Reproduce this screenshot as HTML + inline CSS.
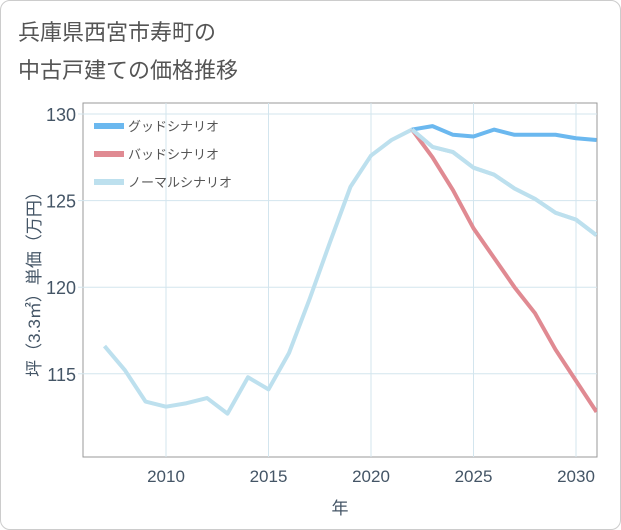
<!DOCTYPE html>
<html><head><meta charset="utf-8"><style>
body{margin:0;background:#fff;}
#card{position:absolute;left:0;top:0;width:619px;height:528px;border:1px solid #ccc;border-radius:10px;background:#fff;}
text{font-family:"Liberation Sans","Noto Sans CJK JP",sans-serif;}
</style></head><body>
<div id="card"></div>
<svg id="chart" width="621" height="530" style="position:absolute;left:0;top:0">
<text x="18" y="40" font-size="22" fill="#555">兵庫県西宮市寿町の</text>
<text x="18" y="78" font-size="22" fill="#555">中古戸建ての価格推移</text>
<g id="plot"></g>
</svg>
<script>
const years=[2007,2008,2009,2010,2011,2012,2013,2014,2015,2016,2017,2018,2019,2020,2021,2022,2023,2024,2025,2026,2027,2028,2029,2030,2031];
const normal=[116.6,115.2,113.4,113.1,113.3,113.6,112.7,114.8,114.1,116.2,119.3,122.6,125.8,127.6,128.5,129.1,128.1,127.8,126.9,126.5,125.7,125.1,124.3,123.9,123.0];
const goodYears=[2022,2023,2024,2025,2026,2027,2028,2029,2030,2031];
const good=[129.1,129.3,128.8,128.7,129.1,128.8,128.8,128.8,128.6,128.5];
const bad=[129.1,127.5,125.6,123.4,121.7,120.0,118.5,116.4,114.6,112.8];
const xTicks=[2010,2015,2020,2025,2030];
const yTicks=[115,120,125,130];
const L=83,R=597,T=103,B=457;
const x=v=>166+(v-2010)*20.5;
const y=v=>114+(130-v)*17.32;
const ns="http://www.w3.org/2000/svg";
const g=document.getElementById('plot');
function mk(tag,attrs,parent){const e=document.createElementNS(ns,tag);for(const k in attrs)e.setAttribute(k,attrs[k]);(parent||g).appendChild(e);return e;}
const bg=mk('rect',{x:L,y:T,width:R-L,height:B-T,fill:'#fff',stroke:'#999','stroke-width':1});


xTicks.forEach(t=>{
 const l=mk('line',{x1:x(t),x2:x(t),y1:T,y2:B,stroke:'#d3e5ee'});
 
 
 const tx=mk('text',{x:x(t),y:B+25,'font-size':17,fill:'#456','text-anchor':'middle'});tx.textContent=t;
 
 
});
yTicks.forEach(t=>{
 const l=mk('line',{x1:L-5,x2:R,y1:y(t),y2:y(t),stroke:'#d3e5ee'});
 
 
 const tx=mk('text',{x:L-7,y:y(t)+7,'font-size':18,fill:'#456','text-anchor':'end'});tx.textContent=t;
 
 
});
const clip=mk('clipPath',{id:'cp'});mk('rect',{x:L,y:T,width:R-L,height:B-T},clip);
function line(xs,vs,color,name){
 const p=mk('polyline',{points:xs.map((v,i)=>x(v)+','+y(vs[i])).join(' '),fill:'none',stroke:color,'stroke-width':4,'stroke-linejoin':'round','clip-path':'url(#cp)'});
 
 
}
line(years,normal,'#bde0ee','normal-line');
line(goodYears,good,'#6bb8ef','good-line');
line(goodYears,bad,'#e08a92','bad-line');
line(years.slice(15),normal.slice(15),'#bde0ee','normal-line-front');
const leg=[['グッドシナリオ','#6bb8ef'],['バッドシナリオ','#e08a92'],['ノーマルシナリオ','#bde0ee']];
leg.forEach((d,i)=>{
 const yy=126+i*28;
 const r=mk('rect',{x:94,y:yy-3,width:30,height:6,fill:d[1]});
 
 
 const t=mk('text',{x:128,y:yy+5,'font-size':13,fill:'#555'});t.textContent=d[0];
 
 
});
const xt=mk('text',{x:340,y:514,'font-size':17,fill:'#456','text-anchor':'middle'});xt.textContent='年';


const yt=mk('text',{x:0,y:0,'font-size':17,fill:'#456','text-anchor':'middle',transform:'translate(40,280) rotate(-90)'});yt.textContent='坪（3.3㎡）単価（万円）';


</script>
</body></html>
